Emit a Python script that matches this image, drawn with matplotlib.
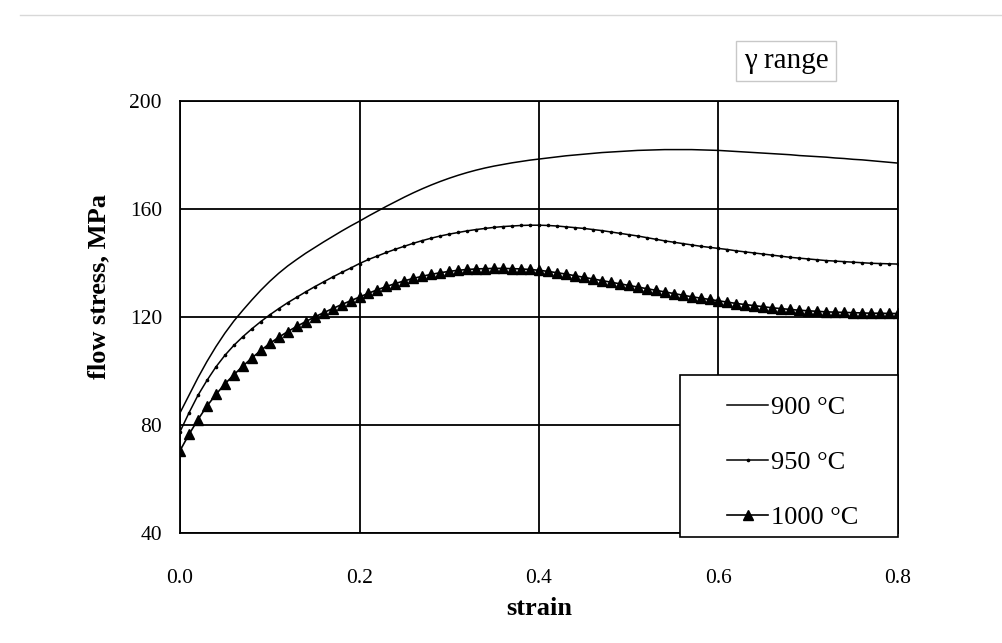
import matplotlib
matplotlib.use("Agg")
import matplotlib.pyplot as plt
import numpy as np
from matplotlib.patches import Rectangle
from matplotlib.lines import Line2D

plt.rcParams['font.family'] = ['Liberation Serif', 'DejaVu Serif']

strain = [round(0.01 * i, 2) for i in range(81)]

stress_900 = [
    84.5, 91.0, 97.5, 103.5, 109.0, 114.0, 118.5, 122.5, 126.3, 129.9,
    133.2, 136.2, 138.9, 141.3, 143.6, 145.7, 147.8, 149.8, 151.8, 153.7,
    155.5, 157.4, 159.2, 161.0, 162.7, 164.4, 166.0, 167.5, 168.9, 170.2,
    171.4, 172.5, 173.5, 174.4, 175.2, 175.9, 176.5, 177.1, 177.6, 178.1,
    178.5, 178.9, 179.3, 179.7, 180.0, 180.3, 180.6, 180.9, 181.1, 181.3,
    181.5, 181.7, 181.8, 181.9, 182.0, 182.0, 182.0, 182.0, 181.9, 181.8,
    181.7, 181.5, 181.3, 181.1, 180.9, 180.7, 180.5, 180.3, 180.1, 179.8,
    179.6, 179.4, 179.2, 178.9, 178.7, 178.4, 178.2, 177.9, 177.6, 177.3,
    177.0,
]

stress_950 = [
    77.5, 84.5, 91.0, 96.5, 101.5, 105.8, 109.5, 112.7, 115.6, 118.3,
    120.8, 123.1, 125.3, 127.3, 129.3, 131.2, 133.0, 134.8, 136.5, 138.1,
    139.8, 141.3, 142.6, 143.9, 145.1, 146.2, 147.3, 148.3, 149.2, 150.0,
    150.7, 151.3, 151.9, 152.4, 152.8, 153.2, 153.5, 153.7, 153.9, 154.0,
    154.0, 153.9, 153.7, 153.4, 153.1, 152.8, 152.4, 152.0, 151.5, 151.0,
    150.5, 150.0, 149.4, 148.8, 148.2, 147.7, 147.2, 146.7, 146.2, 145.8,
    145.4, 145.0, 144.5, 144.1, 143.7, 143.3, 142.9, 142.5, 142.1, 141.8,
    141.5, 141.2, 140.9, 140.7, 140.5, 140.3, 140.1, 139.9, 139.8, 139.7,
    139.6,
]

stress_1000 = [
    70.5, 76.5, 82.0, 87.0, 91.3, 95.2, 98.6, 101.8, 104.8, 107.6,
    110.2, 112.5, 114.6, 116.5, 118.3, 120.0, 121.6, 123.1, 124.6, 126.0,
    127.4, 128.8, 130.1, 131.3, 132.4, 133.4, 134.3, 135.1, 135.8, 136.4,
    136.9, 137.3, 137.6, 137.8, 137.9, 138.0, 138.0, 137.9, 137.8, 137.6,
    137.3, 136.9, 136.4, 135.9, 135.3, 134.7, 134.1, 133.5, 132.9, 132.3,
    131.7, 131.1, 130.5, 129.9, 129.3, 128.7, 128.1, 127.5, 127.0, 126.5,
    126.0, 125.5, 125.0, 124.6, 124.2, 123.8, 123.4, 123.1, 122.8, 122.5,
    122.3, 122.1, 121.9, 121.8, 121.7, 121.6, 121.5, 121.4, 121.4, 121.3,
    121.3,
]

labels = ['900 °C', '950 °C', '1000 °C']
x_ticks = [0.0, 0.2, 0.4, 0.6, 0.8]
y_ticks = [40, 80, 120, 160, 200]

fig = plt.figure(figsize=(10.03, 6.43), dpi=100)
ax = fig.add_axes([180 / 1003, 110 / 643, 718 / 1003, 432 / 643])

ax.plot(strain, stress_900, color='black', lw=1.1, label=labels[0], zorder=3)
ax.plot(strain, stress_950, color='black', lw=1.1, marker='o', ms=1.6,
        label=labels[1], zorder=3)
ax.plot(strain, stress_1000, color='black', lw=1.2, marker='^', ms=7.5,
        label=labels[2], zorder=3)

ax.set_xlim(0, 0.8)
ax.set_ylim(40, 200)
ax.set_xticks(x_ticks)
ax.set_xticklabels([f'{v:.1f}' for v in x_ticks])
ax.set_yticks(y_ticks)
ax.tick_params(length=0, labelsize=15.5)
ax.tick_params(axis='x', pad=26)
ax.tick_params(axis='y', pad=13)
ax.grid(True, color='black', lw=1.3, zorder=1)
for sp in ax.spines.values():
    sp.set_linewidth(1.3)

ax.set_xlabel('strain', fontsize=19, fontweight='bold')
ax.xaxis.set_label_coords(0.5, -0.148)
ax.set_ylabel('flow stress, MPa', fontsize=19, fontweight='bold')
ax.yaxis.set_label_coords(-0.097, 0.57)

# legend box drawn by hand so it can cover the grid in the corner
box = Rectangle((0.696, -0.009), 0.304, 0.375, transform=ax.transAxes,
                facecolor='white', edgecolor='black', lw=1.2,
                clip_on=False, zorder=4)
ax.add_patch(box)
leg = ax.legend(loc='upper left', bbox_to_anchor=(0.762, 0.318),
                frameon=False, fontsize=19, handlelength=1.55,
                handletextpad=0.1, labelspacing=1.2, borderpad=0,
                borderaxespad=0)
leg.set_zorder(5)

fig.text(786 / 1003, 1 - 61 / 643, 'γ range', fontsize=21,
         ha='center', va='center',
         bbox=dict(boxstyle='square,pad=0.25', facecolor='white',
                   edgecolor='#c8c8c8', lw=1.0))

# faint scan edge at the top
fig.add_artist(Line2D([0.02, 1.0], [1 - 15 / 643, 1 - 15 / 643],
                      color='#d8d8d8', lw=1.0))

fig.savefig('out.png', dpi=100)
